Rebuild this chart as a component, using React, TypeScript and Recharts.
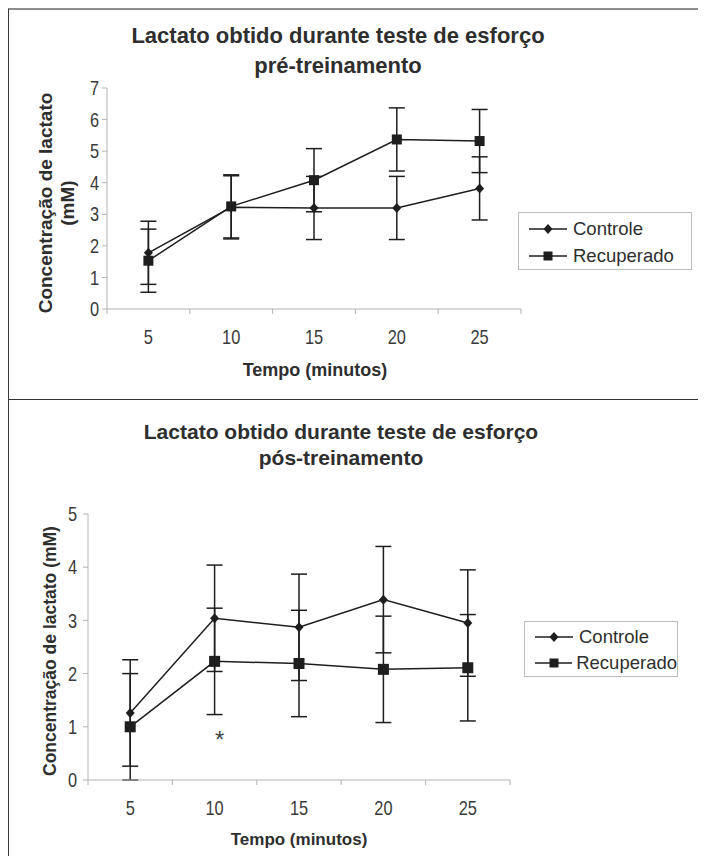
import React from 'react'
import { LineChart, Line, XAxis, YAxis, ErrorBar, ReferenceDot } from 'recharts'

const MINUTES = [5, 10, 15, 20, 25]
const X_TICKS = [2.5, 5, 7.5, 10, 12.5, 15, 17.5, 20, 22.5, 25, 27.5]

const PRE_CONTROLE = [1.78, 3.22, 3.2, 3.2, 3.82]
const PRE_CONTROLE_SD = [1.0, 1.0, 1.0, 1.0, 1.0]
const PRE_RECUPERADO = [1.53, 3.25, 4.08, 5.37, 5.32]
const PRE_RECUPERADO_SD = [1.0, 1.0, 1.0, 1.0, 1.0]
const PRE_Y_TICKS = [0, 1, 2, 3, 4, 5, 6, 7]

const POST_CONTROLE = [1.26, 3.04, 2.87, 3.39, 2.95]
const POST_CONTROLE_SD = [1.0, 1.0, 1.0, 1.0, 1.0]
const POST_RECUPERADO = [1.0, 2.23, 2.19, 2.08, 2.11]
const POST_RECUPERADO_SD = [1.0, 1.0, 1.0, 1.0, 1.0]
const POST_Y_TICKS = [0, 1, 2, 3, 4, 5]

const SERIES_NAMES = ['Controle', 'Recuperado']

const FONT = '"Liberation Sans", Arimo, Arial, sans-serif'
const INK = '#1e1e1e'
const AXIS = '#b3b3b3'
const TEXT = '#2e2e2e'

const preData = MINUTES.map((m, i) => ({
  min: m,
  controle: PRE_CONTROLE[i],
  controleSd: PRE_CONTROLE_SD[i],
  recuperado: PRE_RECUPERADO[i],
  recuperadoSd: PRE_RECUPERADO_SD[i],
}))

const postData = MINUTES.map((m, i) => ({
  min: m,
  controle: POST_CONTROLE[i],
  controleSd: POST_CONTROLE_SD[i],
  recuperado: POST_RECUPERADO[i],
  recuperadoSd: POST_RECUPERADO_SD[i],
}))

// narrow-looking numbers, like the original Arial Narrow labels
const NarrowText = ({ x, y, anchor, children }: any) => (
  <text
    transform={`translate(${x} ${y}) scale(0.82 1)`}
    dy="0.36em"
    textAnchor={anchor}
    fill="#3a3a3a"
    fontSize={20}
    fontFamily={FONT}
  >
    {children}
  </text>
)

// ticks at band edges get a little mark, ticks at band centres get the label
const xTick = (props: any) => {
  const { x, y, payload } = props
  const v = payload.value
  if (v % 5 === 0) {
    return <NarrowText x={x} y={y + 28} anchor="middle">{v}</NarrowText>
  }
  return <line x1={x} x2={x} y1={y} y2={y + 5} stroke={AXIS} strokeWidth={1} />
}

const yTick = (props: any) => {
  const { x, y, payload } = props
  return <NarrowText x={x} y={y} anchor="end">{payload.value}</NarrowText>
}

const diamondDot = (props: any) => {
  const { cx, cy, index } = props
  return (
    <polygon
      key={`d-${index}`}
      points={`${cx},${cy - 5} ${cx + 4.5},${cy} ${cx},${cy + 5} ${cx - 4.5},${cy}`}
      fill={INK}
    />
  )
}

const squareDot = (size: number) => (props: any) => {
  const { cx, cy, index } = props
  return <rect key={`s-${index}`} x={cx - size / 2} y={cy - size / 2} width={size} height={size} fill={INK} />
}

function LegendBox({ left, top, width, height, fontSize, gap }: any) {
  return (
    <div
      style={{
        position: 'absolute', left, top, width, height, boxSizing: 'border-box',
        border: '1px solid #bdbdbd', background: '#fff', fontFamily: FONT, fontSize, color: TEXT,
        paddingLeft: 10, paddingTop: 2,
      }}
    >
      {SERIES_NAMES.map((name, i) => (
        <div key={name} style={{ display: 'flex', alignItems: 'center', height: gap }}>
          <svg width={40} height={14} style={{ marginRight: 4 }}>
            <line x1={0} x2={38} y1={7} y2={7} stroke={INK} strokeWidth={1.5} />
            {i === 0 ? (
              <polygon points="19,2 23.5,7 19,12 14.5,7" fill={INK} />
            ) : (
              <rect x={14.5} y={2.5} width={9} height={9} fill={INK} />
            )}
          </svg>
          <span>{name}</span>
        </div>
      ))}
    </div>
  )
}

function Panel({ data, yMax, yTicks, margin, height, tickMargin, square, star }: any) {
  return (
    <LineChart width={690} height={height} data={data} margin={margin}>
      <XAxis
        type="number"
        dataKey="min"
        domain={[2.5, 27.5]}
        ticks={X_TICKS}
        interval={0}
        stroke={AXIS}
        tickLine={false}
        tickSize={0}
        tickMargin={0}
        tick={xTick}
        height={30}
      />
      <YAxis
        type="number"
        domain={[0, yMax]}
        ticks={yTicks}
        interval={0}
        stroke={AXIS}
        tickSize={5}
        tickMargin={tickMargin}
        width={60}
        tick={yTick}
      />
      <Line
        dataKey="controle"
        stroke={INK}
        strokeWidth={1.5}
        dot={diamondDot}
        activeDot={false}
        isAnimationActive={false}
      >
        <ErrorBar dataKey="controleSd" width={8} stroke={INK} strokeWidth={1.5} direction="y" />
      </Line>
      <Line
        dataKey="recuperado"
        stroke={INK}
        strokeWidth={1.5}
        dot={squareDot(square)}
        activeDot={false}
        isAnimationActive={false}
      >
        <ErrorBar dataKey="recuperadoSd" width={8} stroke={INK} strokeWidth={1.5} direction="y" />
      </Line>
      {star && (
        <ReferenceDot
          x={10}
          y={0.85}
          r={0}
          fill="none"
          stroke="none"
          label={{ value: '*', position: 'center', fill: '#444', fontSize: 24, fontFamily: FONT, dx: 5, dy: 5 }}
        />
      )}
    </LineChart>
  )
}

const titleStyle: any = {
  position: 'absolute', width: 600, textAlign: 'center', fontFamily: FONT, fontWeight: 'bold', color: TEXT,
}

export default function App() {
  return (
    <div
      style={{
        position: 'relative', width: 698, height: 848, background: '#fff',
        borderTop: '2px solid #8c8c8c', borderLeft: '1.5px solid #3a3a3a', boxSizing: 'border-box',
      }}
    >
      {/* pre-training */}
      <div style={{ position: 'absolute', left: 0, top: 0 }}>
        <Panel
          data={preData}
          yMax={7}
          yTicks={PRE_Y_TICKS}
          height={388}
          margin={{ top: 78, right: 178, left: 38, bottom: 59 }}
          tickMargin={3}
          square={10}
        />
      </div>
      <div style={{ ...titleStyle, left: 29, top: 11, fontSize: 22, lineHeight: '30px' }}>
        Lactato obtido durante teste de esforço
        <br />
        pré-treinamento
      </div>
      <div
        style={{
          position: 'absolute', left: 48 - 130, top: 193 - 22, width: 260, height: 44, lineHeight: '22px',
          transform: 'rotate(-90deg)', textAlign: 'center', fontFamily: FONT, fontWeight: 'bold', fontSize: 19, color: TEXT,
        }}
      >
        Concentração de lactato
        <br />
        (mM)
      </div>
      <div style={{ ...titleStyle, left: 306 - 300, top: 349, fontSize: 18, lineHeight: '22px' }}>Tempo (minutos)</div>
      <LegendBox left={509} top={202} width={174} height={58} fontSize={18.5} gap={27} />

      {/* divider */}
      <div style={{ position: 'absolute', left: 0, top: 389, width: 698, borderTop: '1.5px solid #333' }} />

      {/* post-training */}
      <div style={{ position: 'absolute', left: 0, top: 391 }}>
        <Panel
          data={postData}
          yMax={5}
          yTicks={POST_Y_TICKS}
          height={447}
          margin={{ top: 113, right: 189, left: 19, bottom: 38 }}
          tickMargin={6}
          square={11}
          star
        />
      </div>
      <div style={{ ...titleStyle, left: 332 - 300, top: 409, fontSize: 21, lineHeight: '26px' }}>
        Lactato obtido durante teste de esforço
        <br />
        pós-treinamento
      </div>
      <div
        style={{
          position: 'absolute', left: 41 - 140, top: 641 - 11, width: 280, height: 22, lineHeight: '22px',
          transform: 'rotate(-90deg)', textAlign: 'center', fontFamily: FONT, fontWeight: 'bold', fontSize: 17.5, color: TEXT,
        }}
      >
        Concentração de lactato (mM)
      </div>
      <div style={{ ...titleStyle, left: 290 - 300, top: 819, fontSize: 17, lineHeight: '22px' }}>Tempo (minutos)</div>
      <LegendBox left={515} top={611} width={154} height={56} fontSize={18.5} gap={26} />
    </div>
  )
}
